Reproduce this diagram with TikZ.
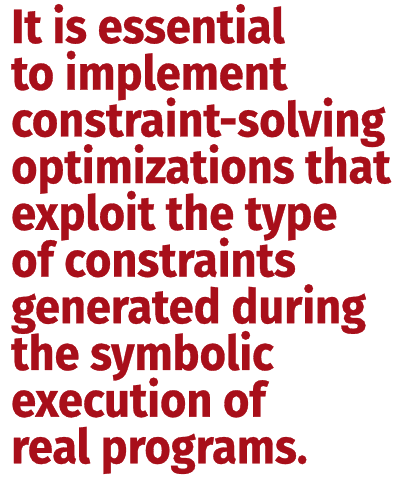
\documentclass[tikz,border=0pt]{standalone}
\usepackage{fontspec}
\usepackage{tikz}
\newfontfamily\quotefont[FakeStretch=0.94, FakeBold=0.6]{Fira Sans}
\definecolor{quotered}{HTML}{A80F1A}

\begin{document}
\begin{tikzpicture}[x=1pt, y=1pt,
        line_style/.style={anchor=base west, inner sep=0pt, text=quotered,
            font=\quotefont\bfseries\fontsize{48}{46}\selectfont}]

        \useasboundingbox (0,0) rectangle (396,-485);

        \foreach \txt [count=\i from 0] in {It is essential, to implement,
            constraint-solving, optimizations that, exploit the type,
            of constraints, generated during, the symbolic, execution of,
            real programs.}
            \node [line_style] (l\i) at (11,-43-46.7*\i) {\txt};
        \end{tikzpicture}
\end{document}
